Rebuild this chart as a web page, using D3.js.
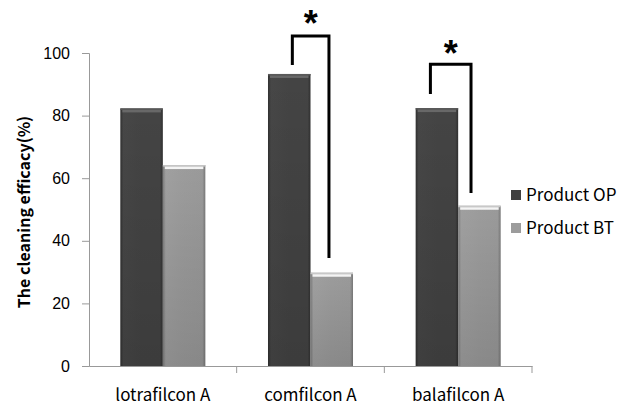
<!DOCTYPE html>
<html><head><meta charset="utf-8">
<script src="https://cdn.jsdelivr.net/npm/d3@7"></script>
<style>body{margin:0;background:#fff}</style>
</head><body>
<svg id="c" width="632" height="405"></svg>
<script>
const categories = ["lotrafilcon A", "comfilcon A", "balafilcon A"];
const seriesNames = ["Product OP", "Product BT"];
const productOP = [82.3, 93.3, 82.4];
const productBT = [64.2, 29.8, 51.2];
const yTicks = [0, 20, 40, 60, 80, 100];
// significance brackets: category, band-fraction left/right, value top, left end, right end, star value
const sigCats = ["comfilcon A", "balafilcon A"];
const sigLeftFrac = [0.377, 0.312];
const sigRightFrac = [0.625, 0.587];
const sigTop = [105.4, 96.4];
const sigLeftEnd = [96.2, 86.9];
const sigRightEnd = [34.5, 55.3];
const sigStar = [111.4, 101.8];

const svg = d3.select("#c");
const m = {left: 89, top: 53};
const x0 = d3.scaleBand().domain(categories).range([m.left, 532]).paddingInner(0).paddingOuter(0);
const x1 = d3.scaleBand().domain(seriesNames).range([0, x0.bandwidth()]).paddingInner(0).paddingOuter(0.737);
const y = d3.scaleLinear().domain([0, 100]).range([366, 53]);

const defs = svg.append("defs");
function grad(id, stops){
  const g = defs.append("linearGradient").attr("id", id).attr("x1",0).attr("x2",1).attr("y1",0).attr("y2",0);
  stops.forEach(s => g.append("stop").attr("offset", s[0]).attr("stop-color", s[1]));
}
grad("gOP", [[0,"#303030"],[0.07,"#474747"],[0.5,"#444"],[0.93,"#444"],[1,"#303030"]]);
grad("gBT", [[0,"#7c7c7c"],[0.07,"#a0a0a0"],[0.5,"#9c9c9c"],[0.93,"#9a9a9a"],[1,"#787878"]]);
const sh = defs.append("linearGradient").attr("id","shade").attr("x1",0).attr("x2",0).attr("y1",0).attr("y2",1);
sh.append("stop").attr("offset",0).attr("stop-color","#000").attr("stop-opacity",0);
sh.append("stop").attr("offset",1).attr("stop-color","#000").attr("stop-opacity",0.12);

const fills = {"Product OP":"url(#gOP)", "Product BT":"url(#gBT)"};
const hiCol = {"Product OP":"#686868", "Product BT":"#f4f4f4"};
const topCol = {"Product OP":"#5a5a5a", "Product BT":"#c8c8c8"};
const flat = {"Product OP":"#404040", "Product BT":"#9c9c9c"};
const data = [];
categories.forEach((c,i)=>{
  data.push({cat:c, s:"Product OP", v:productOP[i]});
  data.push({cat:c, s:"Product BT", v:productBT[i]});
});

// axes
const yAxis = d3.axisLeft(y).tickValues(yTicks).tickSize(7).tickPadding(12).tickFormat(d3.format("d"));
const gy = svg.append("g").attr("transform",`translate(${m.left},0)`).call(yAxis);
gy.select(".domain").attr("stroke","#999");
gy.selectAll(".tick line").attr("stroke","#999");
gy.selectAll("text").attr("font-family","Liberation Sans, Arial, sans-serif").attr("font-size",16).attr("fill","#000");

const xAxis = d3.axisBottom(x0).tickSize(0).tickPadding(0);
const gx = svg.append("g").attr("transform",`translate(0,366)`).call(xAxis);
gx.select(".domain").attr("stroke","#999");
gx.selectAll("text").attr("font-family","Noto Sans CJK KR, Noto Sans, sans-serif").attr("font-size",17).attr("fill","#000")
  .attr("dy",null).attr("y",35);
const bounds = categories.map(c=>x0(c)).concat([x0(categories[categories.length-1])+x0.bandwidth()]);
svg.append("g").selectAll("line").data(bounds.slice(1)).join("line")
  .attr("x1",d=>d).attr("x2",d=>d).attr("y1",366).attr("y2",373).attr("stroke","#999");

// bars
const bars = svg.append("g").selectAll("g").data(data).join("g");
bars.append("rect")
  .attr("x", d=>x0(d.cat)+x1(d.s)).attr("width", x1.bandwidth())
  .attr("y", d=>y(d.v)).attr("height", d=>y(0)-y(d.v))
  .attr("fill", d=>fills[d.s]);
bars.append("rect")
  .attr("x", d=>x0(d.cat)+x1(d.s)).attr("width", x1.bandwidth())
  .attr("y", d=>y(d.v)).attr("height", d=>y(0)-y(d.v))
  .attr("fill", "url(#shade)");
bars.append("rect")
  .attr("x", d=>x0(d.cat)+x1(d.s)).attr("width", x1.bandwidth())
  .attr("y", d=>y(d.v)).attr("height", 1.5)
  .attr("fill", d=>topCol[d.s]);
bars.append("rect")
  .attr("x", d=>x0(d.cat)+x1(d.s)+2).attr("width", x1.bandwidth()-4)
  .attr("y", d=>y(d.v)+1.5).attr("height", 2.5)
  .attr("fill", d=>hiCol[d.s]);

// y label
svg.append("text").attr("transform",`translate(30,212) rotate(-90)`)
  .attr("text-anchor","middle").attr("font-family","Noto Sans CJK KR, Noto Sans, sans-serif")
  .attr("font-weight","bold").attr("font-size",16).text("The cleaning efficacy(%)");

// significance brackets
sigCats.forEach((c,i)=>{
  const xl = x0(c) + sigLeftFrac[i]*x0.bandwidth();
  const xr = x0(c) + sigRightFrac[i]*x0.bandwidth();
  svg.append("path")
    .attr("d", d3.line()([[xl,y(sigLeftEnd[i])],[xl,y(sigTop[i])],[xr,y(sigTop[i])],[xr,y(sigRightEnd[i])]]))
    .attr("fill","none").attr("stroke","#000").attr("stroke-width",3);
  svg.append("text").attr("x",(xl+xr)/2).attr("y",y(sigStar[i])+19)
    .attr("text-anchor","middle").attr("font-family","Liberation Sans, Arial, sans-serif")
    .attr("font-weight","bold").attr("font-size",36).text("*");
});

// legend
const lg = svg.append("g").selectAll("g").data(seriesNames).join("g")
  .attr("transform",(d,i)=>`translate(511,${195 + i*33})`);
lg.append("rect").attr("x",0).attr("y",-5).attr("width",10).attr("height",10).attr("fill",d=>flat[d]);
lg.append("text").attr("x",15).attr("y",0).attr("dy","0.36em")
  .attr("font-family","Noto Sans CJK KR, Noto Sans, sans-serif").attr("font-size",17).text(d=>d);
</script>
</body></html>
